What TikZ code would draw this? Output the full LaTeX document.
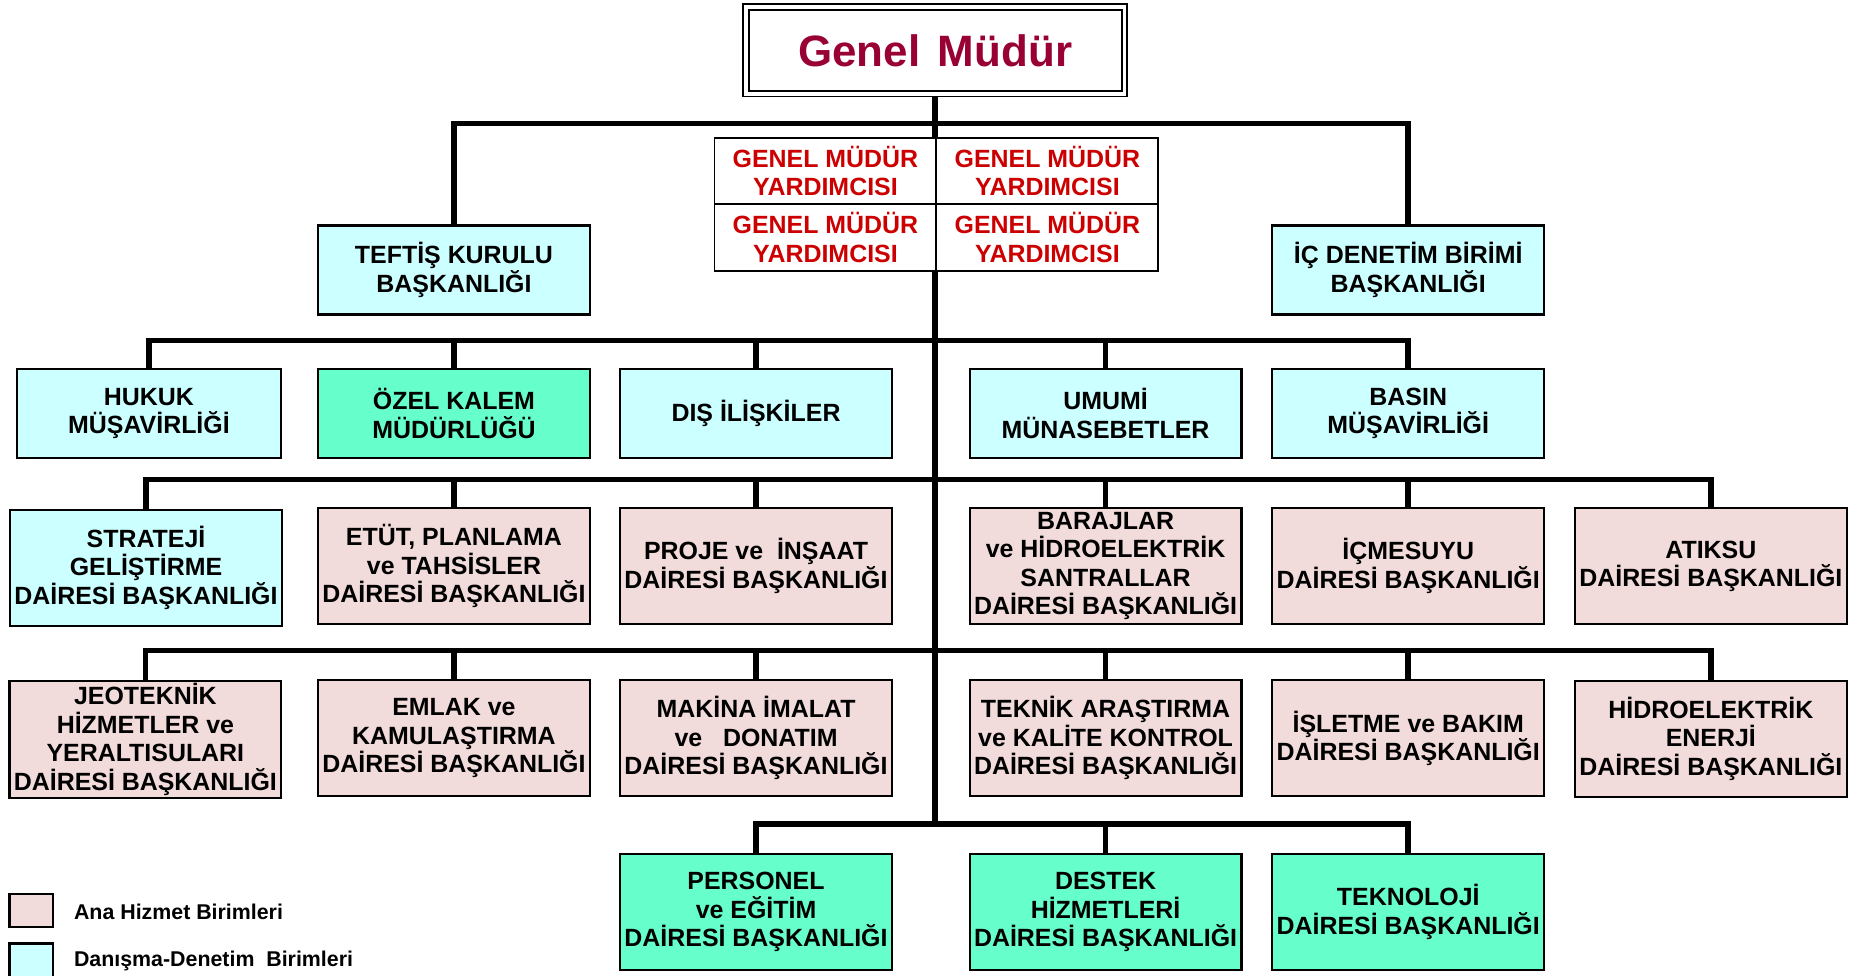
\documentclass[tikz,border=0pt]{standalone}
\usepackage{fontspec}
\setmainfont{Liberation Sans}
\usetikzlibrary{backgrounds}
\definecolor{anapink}{HTML}{F2DCDB}
\definecolor{dancyan}{HTML}{CCFFFF}
\definecolor{destgreen}{HTML}{66FFCC}
\definecolor{gmred}{HTML}{CC0000}
\definecolor{gmtitle}{HTML}{990033}
\tikzset{
  conn/.style={line width=2.4pt},
  unit/.style={draw=black, line width=0.9pt, inner sep=0pt, align=center,
    minimum width=114.5pt, font=\bfseries\fontsize{10.5}{12}\selectfont},
  lowbox/.style={unit, minimum height=37.5pt},
  tallbox/.style={unit, minimum height=49pt},
  pinkfill/.style={fill=anapink},
  cyanfill/.style={fill=dancyan},
  greenfill/.style={fill=destgreen},
  gmycell/.style={draw=black, line width=0.8pt, fill=white, inner sep=0pt, align=center,
    minimum width=93.5pt, minimum height=28pt, text=gmred,
    font=\bfseries\fontsize{10.5}{12}\selectfont},
  swatch/.style={draw=black, line width=0.9pt, minimum width=18.5pt, inner sep=0pt},
  legtext/.style={anchor=west, inner sep=0pt, font=\bfseries\fontsize{9}{10}\selectfont}
}
\begin{document}
\begin{tikzpicture}[x=0.5pt,y=-0.5pt]
\useasboundingbox (0,0) rectangle (1568,822);
\clip (0,0) rectangle (1568,822);

% Genel Mudur
\node[draw=black, line width=0.75pt, double=white, double distance=1.6pt, fill=white,
  minimum width=159.5pt, minimum height=36.5pt, inner sep=0pt, text=gmtitle,
  font=\bfseries\fontsize{18.5}{21}\selectfont] (gm) at (788,42.5) {Genel\hspace{0.4em}Müdür};

% Genel mudur yardimcilari
\node[gmycell] (gmy1) at (695.5,144) {GENEL MÜDÜR\\YARDIMCISI};
\node[gmycell] (gmy2) at (882.5,144) {GENEL MÜDÜR\\YARDIMCISI};
\node[gmycell] (gmy3) at (695.5,200) {GENEL MÜDÜR\\YARDIMCISI};
\node[gmycell] (gmy4) at (882.5,200) {GENEL MÜDÜR\\YARDIMCISI};

% row A
\node[lowbox, cyanfill] (teftis) at (382.5,227.5) {TEFTİŞ KURULU\\BAŞKANLIĞI};
\node[lowbox, cyanfill] (ic) at (1186.5,227.5) {İÇ DENETİM BİRİMİ\\BAŞKANLIĞI};

% row B
\node[lowbox, cyanfill, minimum width=111.5pt] (hukuk) at (125.5,348.5) {HUKUK\\MÜŞAVİRLİĞİ};
\node[lowbox, greenfill] (ozel) at (382.5,348.5) {ÖZEL KALEM\\MÜDÜRLÜĞÜ};
\node[lowbox, cyanfill] (dis) at (637,348.5) {DIŞ İLİŞKİLER};
\node[lowbox, cyanfill] (umumi) at (931.5,348.5) {UMUMİ\\MÜNASEBETLER};
\node[lowbox, cyanfill] (basin) at (1186.5,348.5) {BASIN\\MÜŞAVİRLİĞİ};

% row C
\node[tallbox, cyanfill] (strateji) at (123,478.5) {STRATEJİ\\GELİŞTİRME\\DAİRESİ BAŞKANLIĞI};
\node[tallbox, pinkfill] (etut) at (382.5,477) {ETÜT, PLANLAMA\\ve TAHSİSLER\\DAİRESİ BAŞKANLIĞI};
\node[tallbox, pinkfill] (proje) at (637,477) {PROJE ve\ \ İNŞAAT\\DAİRESİ BAŞKANLIĞI};
\node[tallbox, pinkfill] (barajlar) at (931.5,477) {BARAJLAR\\ve HİDROELEKTRİK\\SANTRALLAR\\DAİRESİ BAŞKANLIĞI};
\node[tallbox, pinkfill] (icmesuyu) at (1186.5,477) {İÇMESUYU\\DAİRESİ BAŞKANLIĞI};
\node[tallbox, pinkfill] (atiksu) at (1441.5,477) {ATIKSU\\DAİRESİ BAŞKANLIĞI};

% row D
\node[tallbox, pinkfill] (jeo) at (122.5,623) {JEOTEKNİK\\HİZMETLER ve\\YERALTISULARI\\DAİRESİ BAŞKANLIĞI};
\node[tallbox, pinkfill] (emlak) at (382.5,622) {EMLAK ve\\KAMULAŞTIRMA\\DAİRESİ BAŞKANLIĞI};
\node[tallbox, pinkfill] (makina) at (637,622) {MAKİNA İMALAT\\ve\ \ \ DONATIM\\DAİRESİ BAŞKANLIĞI};
\node[tallbox, pinkfill] (teknik) at (931.5,622) {TEKNİK ARAŞTIRMA\\ve KALİTE KONTROL\\DAİRESİ BAŞKANLIĞI};
\node[tallbox, pinkfill] (isletme) at (1186.5,622) {İŞLETME ve BAKIM\\DAİRESİ BAŞKANLIĞI};
\node[tallbox, pinkfill] (hidro) at (1441.5,622.5) {HİDROELEKTRİK\\ENERJİ\\DAİRESİ BAŞKANLIĞI};

% row E
\node[tallbox, greenfill] (personel) at (637,768.5) {PERSONEL\\ve EĞİTİM\\DAİRESİ BAŞKANLIĞI};
\node[tallbox, greenfill] (destek) at (931.5,768.5) {DESTEK\\HİZMETLERİ\\DAİRESİ BAŞKANLIĞI};
\node[tallbox, greenfill] (teknoloji) at (1186.5,768.5) {TEKNOLOJİ\\DAİRESİ BAŞKANLIĞI};

% legend
\node[swatch, fill=anapink, minimum height=14pt] (sw1) at (26.5,767) {};
\node[legtext] (lt1) at (62,768) {Ana Hizmet Birimleri};
\node[swatch, fill=dancyan, minimum height=17.5pt] (sw2) at (26.5,812.5) {};
\node[legtext] (lt2) at (62,810) {Danışma-Denetim\ \ Birimleri};

% bus coordinates
\coordinate (b1) at (788,104);
\coordinate (b2) at (788,287);
\coordinate (b3) at (788,404);
\coordinate (b4) at (788,548);
\coordinate (b5) at (788,694);

\begin{scope}[on background layer]
\draw[conn] (gm.south) -- (b5);
\draw[conn] (teftis.north) |- (b1) -| (ic.north);
\draw[conn] (hukuk.north) |- (b2) -| (basin.north);
\foreach \n in {ozel,dis,umumi} \draw[conn] (\n.north) -- (\n.north |- b2);
\draw[conn] (strateji.north) |- (b3) -| (atiksu.north);
\foreach \n in {etut,proje,barajlar,icmesuyu} \draw[conn] (\n.north) -- (\n.north |- b3);
\draw[conn] (jeo.north) |- (b4) -| (hidro.north);
\foreach \n in {emlak,makina,teknik,isletme} \draw[conn] (\n.north) -- (\n.north |- b4);
\draw[conn] (personel.north) |- (b5) -| (teknoloji.north);
\draw[conn] (destek.north) -- (destek.north |- b5);
\end{scope}
\end{tikzpicture}
\end{document}
